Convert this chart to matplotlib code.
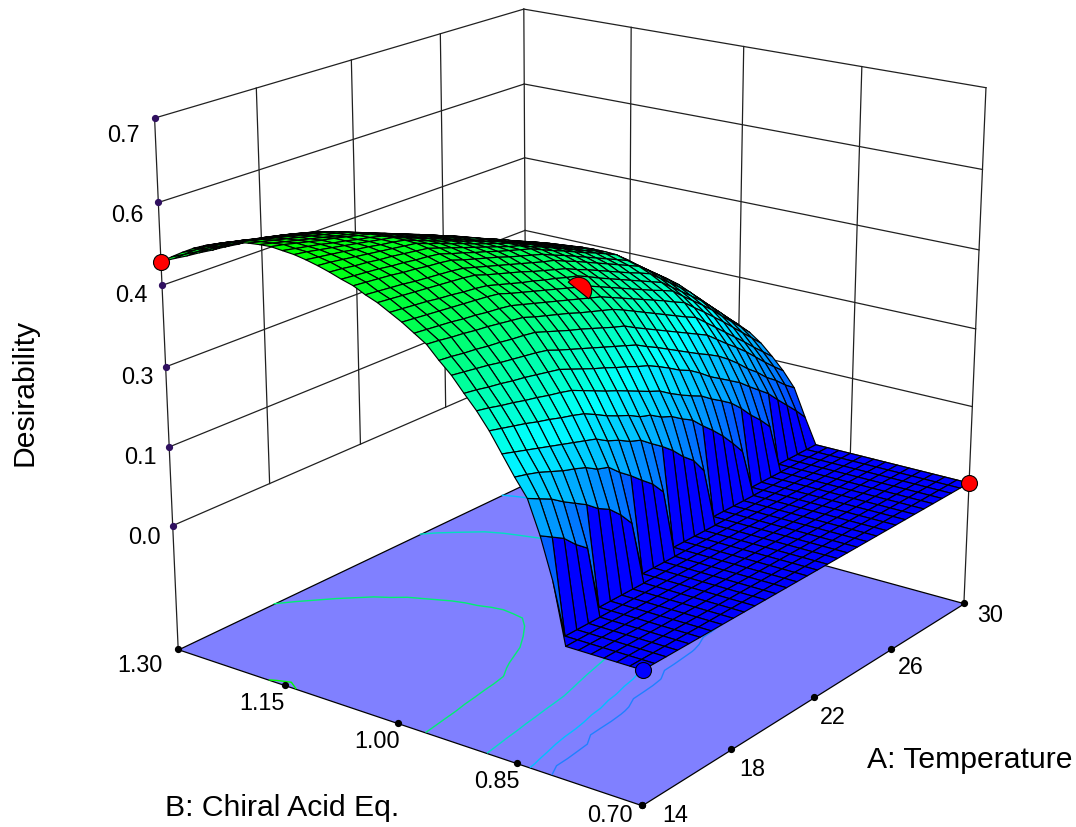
import numpy as np
import matplotlib
matplotlib.use('Agg')
import matplotlib.pyplot as plt
from matplotlib.colors import LinearSegmentedColormap, Normalize
from matplotlib.markers import MarkerStyle
from matplotlib.path import Path
from matplotlib.transforms import Affine2D
from mpl_toolkits.mplot3d.art3d import Poly3DCollection

plt.rcParams['font.family'] = ['Liberation Sans', 'DejaVu Sans']

# temperature rows, chiral acid columns
temperature = np.arange(14, 30.5, 0.5)
acid_eq = np.linspace(0.70, 1.30, 41)

# desirability x 1000, one row per temperature
z_rows = [
    [0]*7+[101,170,225,254,286,318,345,368,392,411,432,445,458,469,480,488,498,504,511,517,522,526,528,530,529,527,524,519,512,505,496,485,473,460],
    [0]*8+[158,215,249,280,313,341,365,389,409,430,443,456,467,478,486,496,502,509,515,519,523,524,526,524,522,519,514,508,501,492,482,470,458],
    [0]*8+[146,205,243,274,308,336,361,386,406,427,441,454,465,476,484,494,500,506,512,516,519,520,521,519,517,514,509,503,496,488,478,467,455],
    [0]*8+[126,191,235,268,303,332,358,383,404,425,439,452,463,474,482,492,498,504,509,513,515,516,516,514,512,509,504,498,492,484,474,464,453],
    [0]*8+[110,179,227,262,297,327,354,379,401,422,436,450,460,472,479,489,495,501,506,509,511,511,511,509,507,504,499,493,487,479,470,461,450],
    [0]*9+[167,221,256,292,323,351,376,399,420,434,448,458,470,477,487,493,499,503,506,507,507,507,504,502,499,494,489,483,475,467,458,448],
    [0]*9+[151,214,250,286,318,347,373,396,417,431,446,455,468,475,484,490,496,500,502,503,502,502,499,497,494,489,484,478,471,463,455,445],
    [0]*9+[140,202,244,281,314,343,370,394,414,429,444,453,466,473,482,488,493,497,499,499,498,497,494,492,489,484,479,473,467,459,452,443],
    [0]*9+[121,196,238,275,309,339,366,391,411,426,441,450,463,470,479,485,490,494,495,495,493,492,489,486,483,478,474,468,462,455,448,440],
    [0]*9+[97,178,226,265,300,331,358,384,404,420,434,444,456,464,472,478,483,486,487,487,485,484,481,478,475,470,466,460,454,447,440,432],
    [0]*10+[163,218,254,291,323,351,377,398,414,428,438,450,458,466,472,476,479,479,479,477,476,473,470,467,462,458,452,446,439,432,425],
    [0]*10+[146,207,245,282,315,344,370,392,408,422,432,444,452,460,465,469,471,471,471,469,468,465,462,459,454,450,444,438,431,424,417],
    [0]*10+[130,200,237,274,308,337,364,386,402,416,427,438,446,454,459,462,464,464,463,462,460,457,454,451,446,442,436,430,424,417,410],
    [0]*10+[107,185,226,265,300,330,357,379,396,410,421,431,440,447,452,455,456,456,455,454,452,449,446,443,438,434,428,422,416,409,402],
    [0]*11+[171,220,256,293,323,350,373,390,404,416,425,434,441,446,448,449,449,447,446,444,441,438,435,430,426,420,414,408,402,395],
    [0]*11+[155,208,247,285,316,343,367,384,398,410,419,428,435,440,441,442,441,439,438,436,433,430,427,422,418,412,406,400,394,387],
    [0]*11+[135,200,239,278,309,337,361,378,392,405,413,423,429,434,435,435,434,432,431,428,426,422,419,415,410,405,399,393,387,380],
    [0]*11+[119,187,226,268,298,326,352,369,383,396,404,414,420,425,426,426,425,423,422,419,417,413,410,406,401,396,390,384,378,370],
    [0]*11+[92,176,215,257,288,316,342,360,374,386,396,406,412,416,418,418,416,414,414,410,408,404,401,397,392,386,380,374,368,361],
    [0]*12+[157,205,245,277,306,332,351,365,377,387,397,403,408,409,409,408,406,405,402,399,395,392,388,383,377,371,365,359,352],
    [0]*12+[140,196,236,266,296,322,342,356,368,378,388,394,399,400,400,399,397,396,393,390,386,383,379,374,368,362,356,350,342],
    [0]*12+[121,182,223,255,286,312,333,347,359,369,379,385,390,391,391,390,388,387,384,381,377,374,370,365,359,353,347,341,333],
    [0]*12+[99,170,208,244,276,302,324,338,350,360,370,376,382,382,382,382,380,378,376,372,368,365,361,356,350,344,338,332,324],
    [0]*12+[75,157,196,234,266,292,314,330,341,352,361,367,373,374,374,373,371,369,367,364,360,356,352,347,341,335,329,322,315],
    [0]*13+[139,184,223,256,283,305,321,332,343,352,358,364,365,365,364,362,360,358,355,351,347,343,338,332,326,320,313,305],
    [0]*13+[118,172,209,240,266,288,304,316,327,336,342,348,348,348,348,346,344,342,338,334,330,326,322,316,310,304,298,290],
    [0]*13+[100,156,193,224,249,272,288,300,311,320,326,331,332,332,331,329,327,325,322,318,314,310,306,300,295,289,282,275],
    [0]*13+[79,141,175,209,232,255,272,284,295,304,310,314,316,316,314,312,310,308,306,302,298,294,290,284,280,274,267,260],
    [0]*14+[126,160,193,215,238,255,268,279,288,294,298,299,299,298,296,294,292,289,286,282,278,274,269,264,258,252,245],
    [0]*14+[106,142,175,198,220,236,249,259,267,273,277,278,278,277,275,274,272,268,266,262,258,255,250,245,240,234,228],
    [0]*14+[87,128,157,180,202,218,230,239,246,252,256,257,257,256,254,253,251,248,246,242,239,236,231,226,221,216,210],
    [0]*14+[68,111,140,163,184,200,210,219,226,232,235,236,236,235,234,232,230,228,226,222,220,216,212,208,203,198,192],
    [0]*14+[47,97,124,146,166,181,191,199,205,211,214,215,215,214,213,212,210,208,206,203,200,197,193,189,185,180,175],
]

a_ticks = [14, 18, 22, 26, 30]
b_ticks = [0.70, 0.85, 1.00, 1.15, 1.30]
b_labels = ['0.70', '0.85', '1.00', '1.15', '1.30']
z_ticks = [0.0, 0.14, 0.28, 0.42, 0.56, 0.70]
z_labels = ['0.0', '0.1', '0.3', '0.4', '0.6', '0.7']
z_floor = -0.225

# design points: temperature, acid, desirability
red_a = [14, 30]
red_b = [1.30, 0.70]
red_z = [0.46, 0.0]
center_a = [22]
center_b = [1.00]
center_z = [0.38]
blue_a = [14]
blue_b = [0.70]
blue_z = [0.0]

contour_levels = [0.11, 0.22, 0.33, 0.44, 0.528]
contour_colors = ['#2080ff', '#00c0ff', '#00e0c0', '#00f070', '#00ff00']

Z = np.array(z_rows) / 1000.0
A, B = np.meshgrid(temperature, acid_eq, indexing='ij')

cmap = LinearSegmentedColormap.from_list('de', ['#0000ff', '#00ffff', '#00ff00'])
norm = Normalize(0, 0.53)

fig = plt.figure(figsize=(10.76, 8.27), dpi=100)
# axes larger than the figure so the 3d lines do not get clipped
ax = fig.add_axes([-0.0359, -0.1945, 1.1152, 1.451], projection='3d')
ax.computed_zorder = False
ax.set_proj_type('persp', focal_length=0.50)
ax.view_init(elev=19.3, azim=-143.25)
ax.set_xlim(14, 30)
ax.set_ylim(0.70, 1.30)
ax.set_zlim(z_floor, 0.70)
ax.set_box_aspect((1, 1, 0.96), zoom=0.798)
ax.set_axis_off()

wall = dict(color='#202020', lw=0.9, zorder=1)
# left wall at B=1.30, right wall at A=30
for z in z_ticks:
    ax.plot([14, 30], [1.30, 1.30], [z, z], **wall)
    ax.plot([30, 30], [1.30, 0.70], [z, z], **wall)
for a in a_ticks[1:-1]:
    ax.plot([a, a], [1.30, 1.30], [0, 0.70], **wall)
for b in b_ticks[1:-1]:
    ax.plot([30, 30], [b, b], [0, 0.70], **wall)
ax.plot([14, 14], [1.30, 1.30], [z_floor, 0.70], **wall)
ax.plot([30, 30], [1.30, 1.30], [z_floor, 0.70], **wall)
ax.plot([30, 30], [0.70, 0.70], [z_floor, 0.70], **wall)

# floor
floor = [[(14, 0.70, z_floor), (30, 0.70, z_floor), (30, 1.30, z_floor), (14, 1.30, z_floor)]]
ax.add_collection3d(Poly3DCollection(floor, facecolor='#8080ff', edgecolor='black', linewidth=0.9, zorder=2))

ax.contour(A, B, Z, levels=contour_levels, colors=contour_colors, offset=z_floor, zdir='z',
           linewidths=1.0, zorder=3)

ax.plot_surface(A, B, Z, rstride=1, cstride=1, facecolors=cmap(norm(Z)), edgecolor='black',
                linewidth=0.85, shade=False, antialiased=True, zorder=4)

# tick dots
ax.plot(a_ticks, [0.70]*5, [z_floor]*5, ls='none', marker='o', ms=4.2, color='black', zorder=5)
ax.plot([14]*5, b_ticks, [z_floor]*5, ls='none', marker='o', ms=4.2, color='black', zorder=5)
ax.plot([14]*6, [1.30]*6, z_ticks, ls='none', marker='o', ms=4.2, color='#301060', zorder=5)

ax.plot(red_a, red_b, red_z, ls='none', marker='o', ms=11.5, mfc='#ff0000', mec='black', mew=0.8, zorder=6)
ax.plot(blue_a, blue_b, blue_z, ls='none', marker='o', ms=11.5, mfc='#0000ff', mec='black', mew=0.8, zorder=6)

# the center point sits half under the surface
half_dot = MarkerStyle(Path.unit_circle_righthalf(), transform=Affine2D().rotate_deg(51))
ax.plot(center_a, center_b, center_z, ls='none', marker=half_dot, ms=19, mfc='#ff0000', mec='black',
        mew=0.8, zorder=6)

W, H = 1076.0, 827.0
tick_fs = 16.8
label_fs = 21.7


def put(x, y, s, fs=tick_fs, **kw):
    fig.text(x/W, 1-y/H, s, fontsize=fs, ha='center', va='center', color='black', **kw)


a_pos = [(675, 816), (752, 769), (833, 718), (911, 668), (990, 616)]
for p, t in zip(a_pos, a_ticks):
    put(p[0], p[1], str(t))
b_pos = [(610, 816), (497, 781), (377, 741), (262, 703), (140, 665)]
for p, t in zip(b_pos, b_labels):
    put(p[0], p[1], t)
z_pos = [(144, 538), (140, 457), (137, 377), (131, 295), (127, 215), (123, 135)]
for p, t in zip(z_pos, z_labels):
    put(p[0], p[1], t)

put(970, 760, 'A: Temperature', fs=label_fs)
put(282, 808, 'B: Chiral Acid Eq.', fs=label_fs)
put(25, 392, 'Desirability', fs=label_fs, rotation=90)

fig.savefig('out.png', dpi=100)
